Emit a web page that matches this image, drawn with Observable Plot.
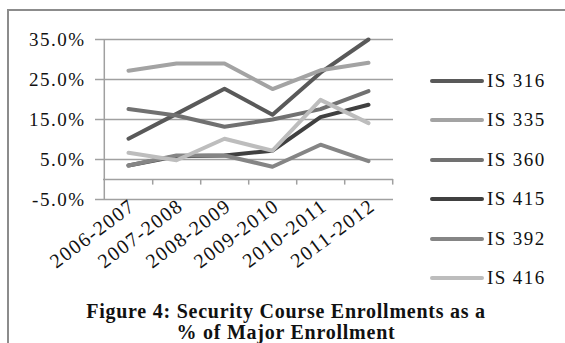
<!DOCTYPE html>
<html><head><meta charset="utf-8">
<script src="https://cdn.jsdelivr.net/npm/d3@7"></script>
<script src="https://cdn.jsdelivr.net/npm/@observablehq/plot@0.6"></script>
<style>
body{margin:0;background:#fff;}
#wrap{position:relative;width:565px;height:343px;overflow:hidden;font-family:"Liberation Serif","Times New Roman",serif;color:#111;}
#frame{position:absolute;left:7px;top:9px;width:600px;height:400px;border-top:2px solid #8c8c8c;border-left:2px solid #8c8c8c;}
#chart{position:absolute;left:0;top:0;}
#chart svg text{letter-spacing:1.5px;}
.leg{position:absolute;left:430px;height:20px;font-size:19px;letter-spacing:1.4px;white-space:nowrap;}
.leg .sw{position:absolute;left:0;top:8px;width:54px;height:4px;border-radius:2px;}
.leg .lb{position:absolute;left:57px;top:0;line-height:20px;}
#title{position:absolute;left:0;width:572px;top:301px;text-align:center;font-weight:bold;font-size:20px;line-height:21px;letter-spacing:0.75px;}
</style></head>
<body>
<div id="wrap">
  <div id="frame"></div>
  <div id="chart"></div>
  <div id="legend"></div>
  <div id="title">Figure 4: Security Course Enrollments as a<br>% of Major Enrollment</div>
</div>
<script>
const years = ["2006-2007","2007-2008","2008-2009","2009-2010","2010-2011","2011-2012"];
const seriesNames = ["IS 316","IS 335","IS 360","IS 415","IS 392","IS 416"];
const is316 = [10.2, 16.4, 22.7, 16.2, 26.7, 35.0];
const is335 = [27.2, 29.0, 29.0, 22.6, 27.3, 29.2];
const is360 = [17.6, 16.0, 13.2, 15.0, 17.6, 22.1];
const is415 = [3.5, 5.8, 6.0, 7.2, 15.6, 18.7];
const is392 = [3.5, 6.0, 6.0, 3.2, 8.7, 4.6];
const is416 = [6.7, 4.8, 10.2, 7.2, 19.9, 14.1];
const yTicks = [-5, 5, 15, 25, 35];
const colors = ["#595959","#a3a3a3","#717171","#404040","#858585","#bdbdbd"];

const seriesValues = [is316, is335, is360, is415, is392, is416];
const data = seriesNames.flatMap((name, s) =>
  years.map((yr, i) => ({series: name, year: yr, value: seriesValues[s][i]})));

const gridColor = "#a0a0a0";
const chart = Plot.plot({
  width: 565, height: 343,
  marginLeft: 103, marginRight: 172, marginTop: 39, marginBottom: 144,
  style: {fontFamily: '"Liberation Serif","Times New Roman",serif', fontSize: "19px", color: "#111", background: "transparent"},
  x: {type: "point", domain: years, padding: 0.5},
  y: {domain: [-5, 35]},
  color: {domain: seriesNames, range: colors},
  marks: [
    Plot.ruleY(yTicks, {stroke: gridColor, strokeWidth: 1.5}),
    Plot.ruleY([0], {stroke: gridColor, strokeWidth: 1.5}),
    Plot.ruleX([years[0]], {y1: -5, y2: 35, dx: -24.2, stroke: gridColor, strokeWidth: 1.5}),
    Plot.ruleX(years, {y1: 0, y2: -1.4, dx: 24.2, stroke: gridColor, strokeWidth: 1.5}),
    Plot.axisY(yTicks, {tickSize: 8, tickPadding: 10, stroke: gridColor, strokeWidth: 1.5,
      tickFormat: d => d.toFixed(1) + "%", fontSize: 19, label: null}),
    Plot.axisX({tickSize: 0, tickPadding: 4, tickRotate: -37, fontSize: 20, label: null, dx: 4}),
    Plot.line(data, {x: "year", y: "value", z: "series", stroke: "series",
      strokeWidth: 4, strokeLinejoin: "round", strokeLinecap: "round"})
  ]
});
document.getElementById("chart").appendChild(chart);

const legend = document.getElementById("legend");
seriesNames.forEach((name, i) => {
  const row = document.createElement("div");
  row.className = "leg";
  row.style.top = (70.5 + 39.5 * i) + "px";
  row.innerHTML = `<div class="sw" style="background:${colors[i]}"></div><div class="lb">${name}</div>`;
  legend.appendChild(row);
});
</script>
</body></html>
